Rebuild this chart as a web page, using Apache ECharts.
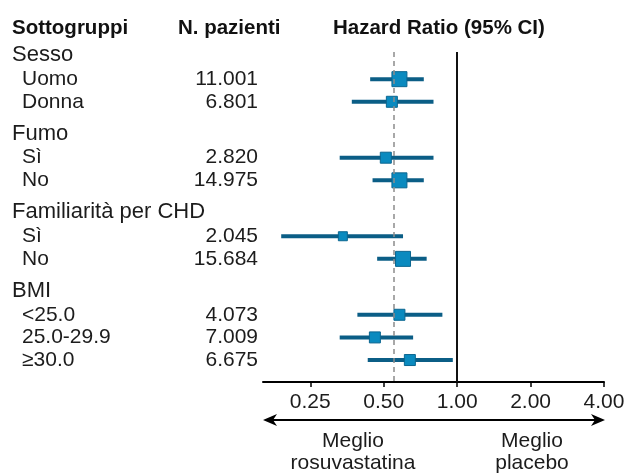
<!DOCTYPE html>
<html><head><meta charset="utf-8">
<script src="https://cdn.jsdelivr.net/npm/echarts@6/dist/echarts.min.js"></script>
<style>html,body{margin:0;padding:0;background:#fff}#c{width:626px;height:475px}</style>
</head><body><div id="c"></div>
<script>
// ---- data ----
const groups = ["Sesso", "Fumo", "Familiarità per CHD", "BMI"];
const itemGroup = [0, 0, 1, 1, 2, 2, 3, 3, 3];
const itemNames = ["Uomo", "Donna", "Sì", "No", "Sì", "No", "<25.0", "25.0-29.9", "≥30.0"];
const patientLabels = ["11.001", "6.801", "2.820", "14.975", "2.045", "15.684", "4.073", "7.009", "6.675"];
const patientCounts = [11001, 6801, 2820, 14975, 2045, 15684, 4073, 7009, 6675];
const hr = [0.58, 0.54, 0.51, 0.58, 0.34, 0.60, 0.58, 0.46, 0.64];
const ciLow = [0.44, 0.37, 0.33, 0.45, 0.19, 0.47, 0.39, 0.33, 0.43];
const ciHigh = [0.73, 0.80, 0.80, 0.73, 0.60, 0.75, 0.87, 0.66, 0.96];
const overallHR = 0.55;
const tickValues = [0.25, 0.5, 1, 2, 4];
const tickLabels = ["0.25", "0.50", "1.00", "2.00", "4.00"];
const axisMinHR = 0.16;
const axisMaxHR = 4;
const headers = ["Sottogruppi", "N. pazienti", "Hazard Ratio (95% CI)"];
const sideLeft = ["Meglio", "rosuvastatina"];
const sideRight = ["Meglio", "placebo"];

// ---- layout ----
const FONT = '"Liberation Sans", Arial, sans-serif';
const TXT = '#1c1c1c';
const G = {left: 263, right: 22, top: 52, bottom: 93};
const rowPos = [], headerPos = [];
let pos = 0, prevG = -1;
itemGroup.forEach((g, i) => {
  if (g !== prevG) { if (prevG >= 0) pos += 1.4; headerPos.push(pos); pos += 1.07; prevG = g; }
  else pos += 1;
  rowPos.push(pos);
});
const nameMap = {}, numMap = {};
headerPos.forEach((p, gi) => { nameMap[p.toFixed(3)] = '{h|' + groups[gi] + '}'; });
rowPos.forEach((p, i) => {
  nameMap[p.toFixed(3)] = '{s|' + itemNames[i] + '}';
  numMap[p.toFixed(3)] = patientLabels[i];
});
const allPos = headerPos.concat(rowPos);
const tickLog = tickValues.map(v => Math.log2(v));
function sqSize(n) { return n < 2500 ? 9 : (n < 10000 ? 11 : 15); }

const chart = echarts.init(document.getElementById('c'), null, {renderer: 'canvas'});
const yCommon = {
  type: 'value', inverse: true, min: -0.13, max: 14.45, position: 'left', offset: 0,
  axisLine: {show: false}, axisTick: {show: false}, splitLine: {show: false}
};
chart.setOption({
  animation: false,
  backgroundColor: '#fff',
  grid: {left: G.left, right: G.right, top: G.top, bottom: G.bottom, containLabel: false, outerBoundsMode: 'none'},
  xAxis: {
    type: 'value', min: Math.log2(axisMinHR), max: Math.log2(axisMaxHR),
    splitLine: {show: false},
    axisLine: {show: true, onZero: false, lineStyle: {color: '#000', width: 2}},
    axisTick: {show: true, customValues: tickLog, length: 5, lineStyle: {color: '#000', width: 1.5}},
    axisLabel: {
      customValues: tickLog, margin: 10, fontFamily: FONT, fontSize: 21, color: TXT,
      formatter: v => { const i = tickLog.findIndex(t => Math.abs(t - v) < 1e-6); return i >= 0 ? tickLabels[i] : ''; }
    }
  },
  yAxis: [
    Object.assign({}, yCommon, {
      axisLabel: {
        customValues: allPos, align: 'left', margin: G.left - 12, hideOverlap: false,
        formatter: v => nameMap[v.toFixed(3)] || '',
        rich: {
          h: {fontFamily: FONT, fontSize: 22, color: TXT},
          s: {fontFamily: FONT, fontSize: 21, color: TXT, padding: [0, 0, 0, 10]}
        }
      }
    }),
    Object.assign({}, yCommon, {
      axisLabel: {
        customValues: rowPos, align: 'right', margin: G.left - 258, hideOverlap: false,
        fontFamily: FONT, fontSize: 21, color: TXT,
        formatter: v => numMap[v.toFixed(3)] || ''
      }
    })
  ],
  series: [
    {
      type: 'custom', z: 2,
      data: rowPos.map((p, i) => [Math.log2(ciLow[i]), Math.log2(ciHigh[i]), p]),
      encode: {x: [0, 1], y: 2},
      renderItem: (params, api) => {
        const a = api.coord([api.value(0), api.value(2)]);
        const b = api.coord([api.value(1), api.value(2)]);
        return {type: 'line', shape: {x1: a[0], y1: a[1], x2: b[0], y2: b[1]},
          style: {stroke: '#0b5e86', lineWidth: 4}};
      },
      markLine: {
        silent: true, symbol: ['none', 'none'], label: {show: false}, animation: false,
        data: [
          {xAxis: Math.log2(overallHR), lineStyle: {color: '#8c8c8c', width: 1.5, type: [5, 4]}},
          {xAxis: 0, lineStyle: {color: '#111', width: 2, type: 'solid'}}
        ]
      }
    },
    {
      type: 'scatter', z: 3,
      symbol: 'rect',
      data: rowPos.map((p, i) => [Math.log2(hr[i]), p, patientCounts[i]]),
      symbolSize: v => sqSize(v[2]),
      itemStyle: {color: '#0a8abf', borderColor: '#0b6690', borderWidth: 1, opacity: 1}
    }
  ],
  graphic: [
    {type: 'text', x: 12, y: 28, style: {text: headers[0], fontFamily: FONT, fontSize: 20.5, fontWeight: 'bold', fill: '#111', verticalAlign: 'middle'}},
    {type: 'text', x: 178, y: 28, style: {text: headers[1], fontFamily: FONT, fontSize: 20.5, fontWeight: 'bold', fill: '#111', verticalAlign: 'middle'}},
    {type: 'text', x: 333, y: 28, style: {text: headers[2], fontFamily: FONT, fontSize: 20.5, fontWeight: 'bold', fill: '#111', verticalAlign: 'middle'}},
    {type: 'line', shape: {x1: 272, y1: 420, x2: 596, y2: 420}, style: {stroke: '#000', lineWidth: 2}},
    {type: 'polygon', shape: {points: [[263, 420], [277, 414], [273, 420], [277, 426]]}, style: {fill: '#000'}},
    {type: 'polygon', shape: {points: [[605, 420], [591, 414], [595, 420], [591, 426]]}, style: {fill: '#000'}},
    {type: 'text', x: 353, y: 441, style: {text: sideLeft[0], fontFamily: FONT, fontSize: 21, fill: TXT, align: 'center', verticalAlign: 'middle'}},
    {type: 'text', x: 353, y: 463, style: {text: sideLeft[1], fontFamily: FONT, fontSize: 21, fill: TXT, align: 'center', verticalAlign: 'middle'}},
    {type: 'text', x: 532, y: 441, style: {text: sideRight[0], fontFamily: FONT, fontSize: 21, fill: TXT, align: 'center', verticalAlign: 'middle'}},
    {type: 'text', x: 532, y: 463, style: {text: sideRight[1], fontFamily: FONT, fontSize: 21, fill: TXT, align: 'center', verticalAlign: 'middle'}}
  ]
});
</script>
</body></html>
